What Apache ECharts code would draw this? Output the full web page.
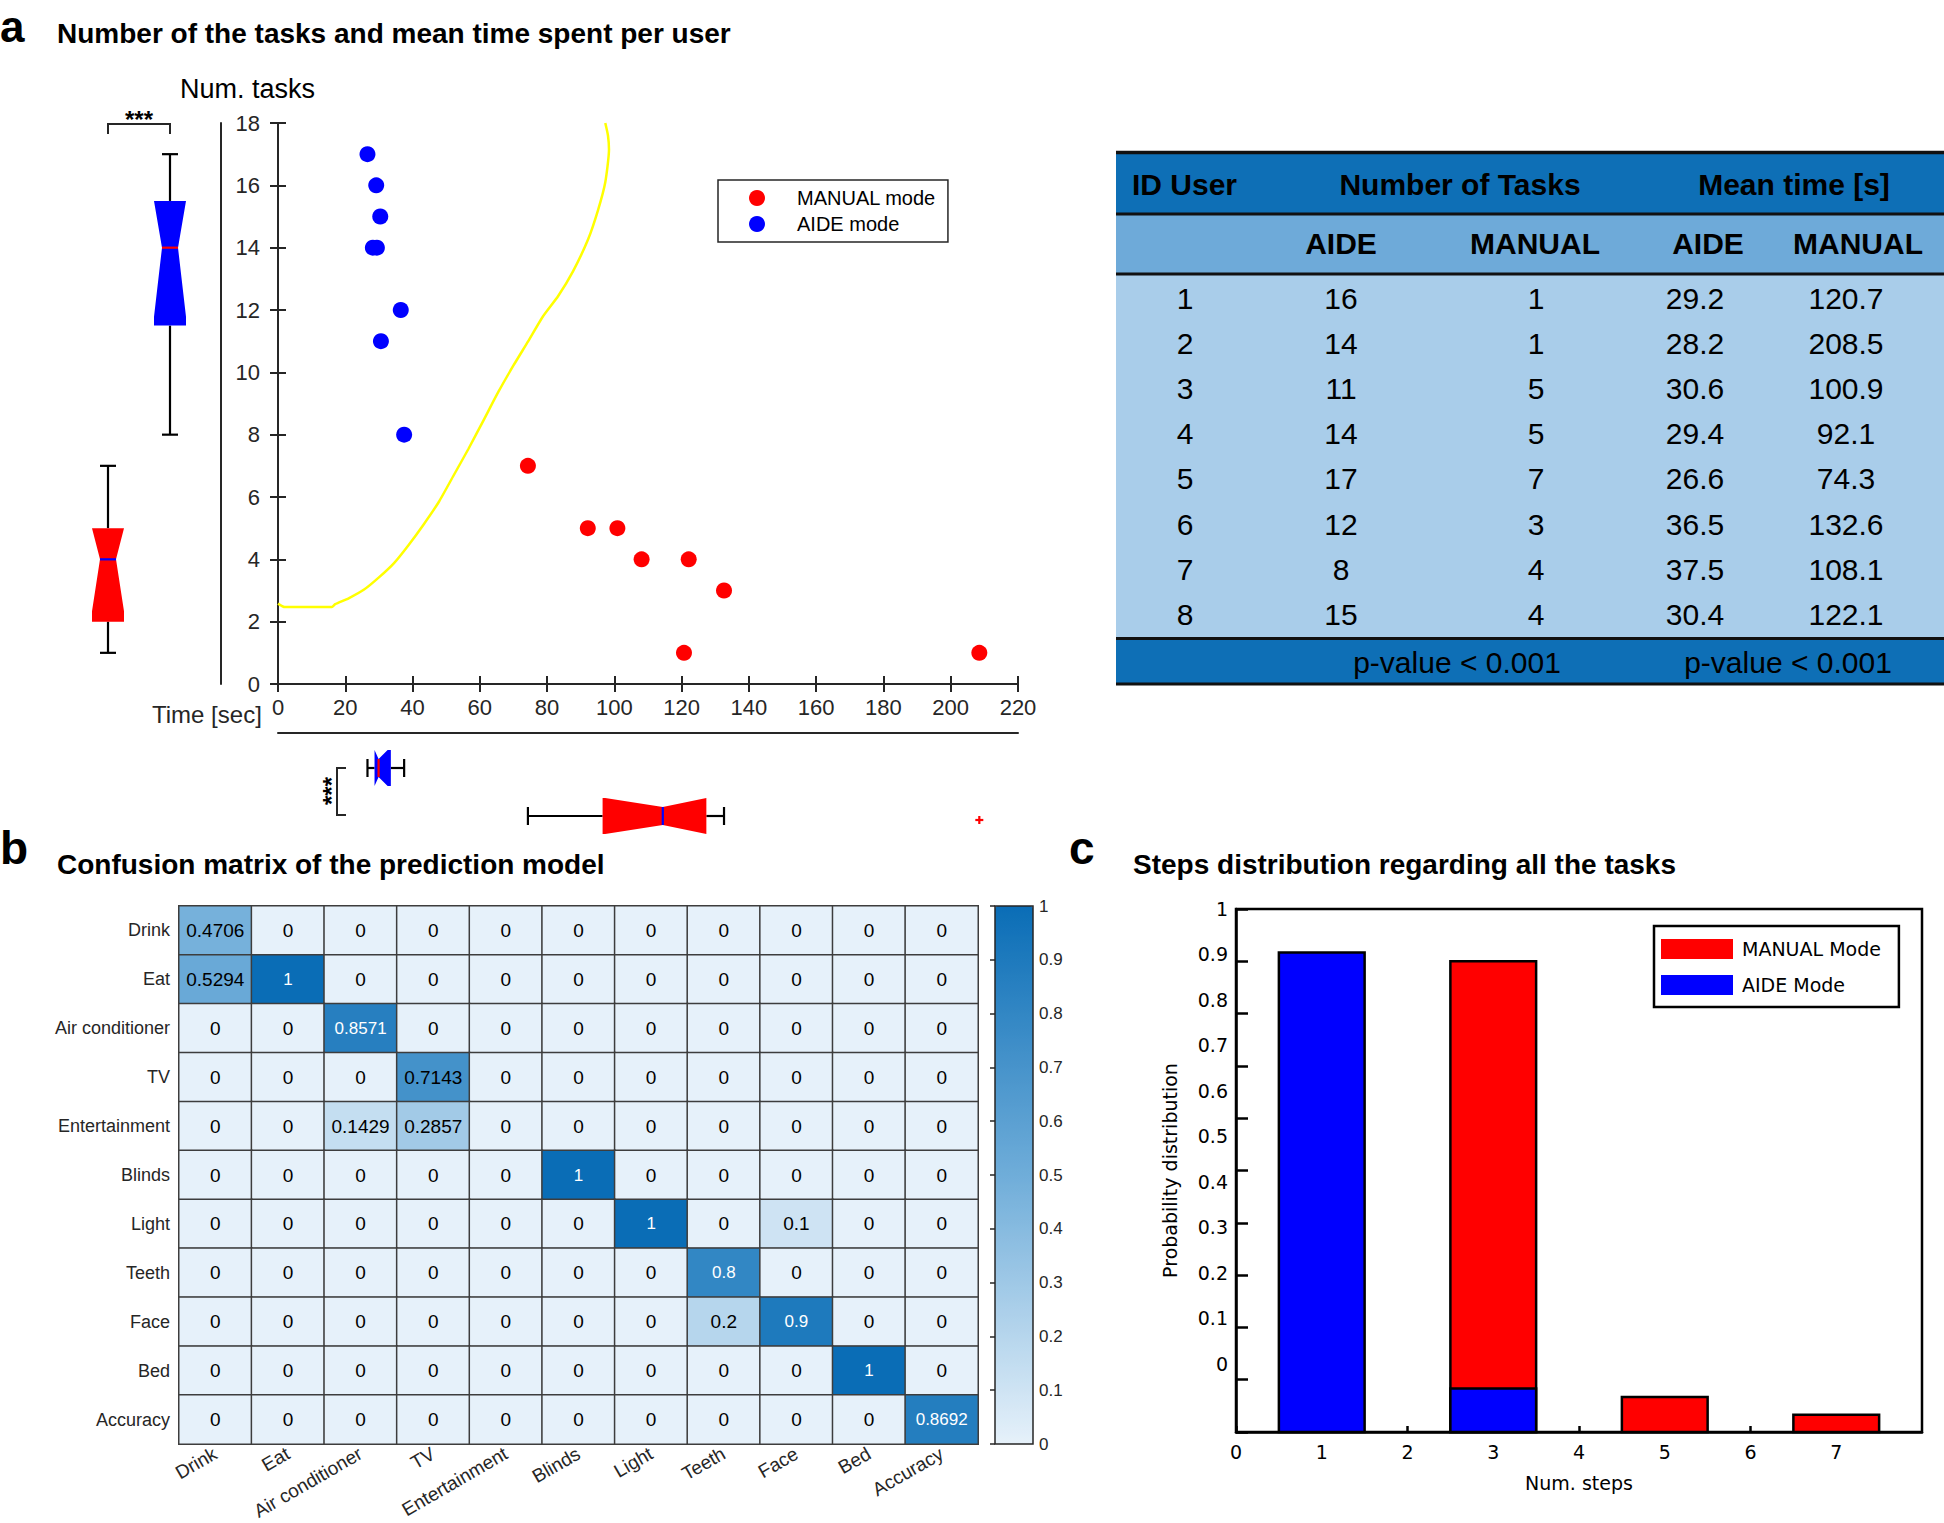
<!DOCTYPE html>
<html><head><meta charset="utf-8">
<script src="https://cdn.jsdelivr.net/npm/echarts@6/dist/echarts.min.js"></script>
<style>html,body{margin:0;padding:0;background:#fff}#c{width:1944px;height:1523px}</style>
</head><body><div id="c"></div>
<script>
// ================= DATA =================
const userIds      = [1, 2, 3, 4, 5, 6, 7, 8];
const aideTasks    = [16, 14, 11, 14, 17, 12, 8, 15];
const manualTasks  = [1, 1, 5, 5, 7, 3, 4, 4];
const aideTime     = [29.2, 28.2, 30.6, 29.4, 26.6, 36.5, 37.5, 30.4];
const manualTime   = [120.7, 208.5, 100.9, 92.1, 74.3, 132.6, 108.1, 122.1];
const pValueTasks  = 'p-value < 0.001';
const pValueTime   = 'p-value < 0.001';
// decision boundary (yellow curve)
const boundaryTime  = [0, 2, 16, 17, 21, 25.6, 30, 34.5, 38.9, 43.3, 47.8, 52.2, 56.6, 61.1, 65.5, 70, 74.4, 78.8, 83.3, 87.7, 92.2, 95.1, 97.3, 98.4, 98.1, 97.3];
const boundaryTasks = [2.58, 2.47, 2.47, 2.56, 2.75, 3.03, 3.42, 3.88, 4.47, 5.12, 5.84, 6.69, 7.54, 8.46, 9.37, 10.22, 11.0, 11.8, 12.45, 13.24, 14.27, 15.19, 16.1, 17.15, 17.6, 18];
// confusion matrix
const classes = ['Drink', 'Eat', 'Air conditioner', 'TV', 'Entertainment', 'Blinds', 'Light', 'Teeth', 'Face', 'Bed', 'Accuracy'];
const confusion = [
  [0.4706, 0, 0, 0, 0, 0, 0, 0, 0, 0, 0],
  [0.5294, 1, 0, 0, 0, 0, 0, 0, 0, 0, 0],
  [0, 0, 0.8571, 0, 0, 0, 0, 0, 0, 0, 0],
  [0, 0, 0, 0.7143, 0, 0, 0, 0, 0, 0, 0],
  [0, 0, 0.1429, 0.2857, 0, 0, 0, 0, 0, 0, 0],
  [0, 0, 0, 0, 0, 1, 0, 0, 0, 0, 0],
  [0, 0, 0, 0, 0, 0, 1, 0, 0.1, 0, 0],
  [0, 0, 0, 0, 0, 0, 0, 0.8, 0, 0, 0],
  [0, 0, 0, 0, 0, 0, 0, 0.2, 0.9, 0, 0],
  [0, 0, 0, 0, 0, 0, 0, 0, 0, 1, 0],
  [0, 0, 0, 0, 0, 0, 0, 0, 0, 0, 0.8692]
];
// steps distribution
const steps          = [1, 2, 3, 4, 5, 6, 7];
const aideStepProb   = [0.917, 0, 0.083, 0, 0, 0, 0];
const manualStepProb = [0, 0, 0.9, 0, 0.067, 0, 0.033];

// ================= HELPERS =================
const RED = '#ff0000', BLUE = '#0000ff', AX = '#262626';
const FA = '"Liberation Sans", Arial, Helvetica, sans-serif';
const FN = '"Liberation Sans Narrow", "Liberation Sans", Arial, sans-serif';
const FD = '"DejaVu Sans", Verdana, sans-serif';

function boxStats(arr) {
  const s = [...arr].sort((a, b) => a - b), n = s.length;
  const q = p => { const pos = n * p + 0.5; if (pos <= 1) return s[0]; if (pos >= n) return s[n - 1];
    const lo = Math.floor(pos), f = pos - lo; return s[lo - 1] + f * (s[lo] - s[lo - 1]); };
  const q1 = q(0.25), med = q(0.5), q3 = q(0.75), iqr = q3 - q1;
  const inl = s.filter(v => v >= q1 - 1.5 * iqr && v <= q3 + 1.5 * iqr);
  const out = s.filter(v => v < q1 - 1.5 * iqr || v > q3 + 1.5 * iqr);
  const d = 1.57 * iqr / Math.sqrt(n);
  return { q1, med, q3, lo: inl[0], hi: inl[inl.length - 1], out, nlo: med - d, nhi: med + d };
}
const boxGroups = ['MANUAL', 'AIDE'];
const taskStats = [boxStats(manualTasks), boxStats(aideTasks)];
const timeStats = [boxStats(manualTime), boxStats(aideTime)];

function renderVBox(params, api) {
  const i = params.dataIndex, st = taskStats[i];
  const cx = api.coord([i, 0])[0], Y = v => api.coord([i, v])[1];
  const w = 32, fill = i === 0 ? RED : BLUE, mc = i === 0 ? BLUE : RED;
  const a = Math.max(st.nlo, st.q1), b = Math.min(st.nhi, st.q3);
  const L = (x1, y1, x2, y2, c) => ({ type: 'line', shape: { x1, y1, x2, y2 }, style: { stroke: c || '#000', lineWidth: 2.2 } });
  return { type: 'group', children: [
    L(cx, Y(st.q3), cx, Y(st.hi)), L(cx, Y(st.q1), cx, Y(st.lo)),
    L(cx - 8, Y(st.hi), cx + 8, Y(st.hi)), L(cx - 8, Y(st.lo), cx + 8, Y(st.lo)),
    { type: 'polygon', shape: { points: [[cx - w / 2, Y(st.q1)], [cx - w / 2, Y(a)], [cx - w / 4, Y(st.med)], [cx - w / 2, Y(b)], [cx - w / 2, Y(st.q3)],
      [cx + w / 2, Y(st.q3)], [cx + w / 2, Y(b)], [cx + w / 4, Y(st.med)], [cx + w / 2, Y(a)], [cx + w / 2, Y(st.q1)]] }, style: { fill } },
    L(cx - w / 4, Y(st.med), cx + w / 4, Y(st.med), mc)
  ]};
}
function renderHBox(params, api) {
  const i = params.dataIndex, st = timeStats[i];
  const cy = api.coord([0, i])[1], X = v => api.coord([v, i])[0];
  const h = 36, fill = i === 0 ? RED : BLUE, mc = i === 0 ? BLUE : RED;
  const a = Math.max(st.nlo, st.q1), b = Math.min(st.nhi, st.q3);
  const L = (x1, y1, x2, y2, c) => ({ type: 'line', shape: { x1, y1, x2, y2 }, style: { stroke: c || '#000', lineWidth: 2.2 } });
  const ch = [
    L(X(st.q3), cy, X(st.hi), cy), L(X(st.q1), cy, X(st.lo), cy),
    L(X(st.hi), cy - 9, X(st.hi), cy + 9), L(X(st.lo), cy - 9, X(st.lo), cy + 9),
    { type: 'polygon', shape: { points: [[X(st.q1), cy - h / 2], [X(a), cy - h / 2], [X(st.med), cy - h / 4], [X(b), cy - h / 2], [X(st.q3), cy - h / 2],
      [X(st.q3), cy + h / 2], [X(b), cy + h / 2], [X(st.med), cy + h / 4], [X(a), cy + h / 2], [X(st.q1), cy + h / 2]] }, style: { fill } },
    L(X(st.med), cy - h / 4, X(st.med), cy + h / 4, mc)
  ];
  st.out.forEach(v => { ch.push(L(X(v) - 4, cy + 4, X(v) + 4, cy + 4, fill)); ch.push(L(X(v), cy, X(v), cy + 8, fill)); });
  return { type: 'group', children: ch };
}
function barSeries(name, probs, color) {
  return { type: 'custom', name, xAxisIndex: 6, yAxisIndex: 6, silent: true, itemStyle: { color },
    data: steps.map((s, k) => [s, probs[k]]).filter(d => d[1] > 0),
    encode: { x: 0, y: 1 },
    renderItem: (params, api) => {
      const x = api.value(0), y = api.value(1);
      const p0 = api.coord([x - 0.5, y]), p1 = api.coord([x + 0.5, 0]);
      return { type: 'rect', shape: { x: p0[0], y: p0[1], width: p1[0] - p0[0], height: p1[1] - p0[1] },
        style: { fill: color, stroke: '#000', lineWidth: 2.5 } };
    } };
}

// heatmap data
const heatData = [];
confusion.forEach((row, r) => row.forEach((v, c) => heatData.push({
  value: [c, r, v], label: { color: v >= 0.75 ? '#ffffff' : '#000000', fontSize: v >= 0.75 ? 17 : 19 } })));

// ================= GRAPHIC (texts, brackets, table) =================
const txt = (text, x, y, size, opt) => Object.assign({ type: 'text', x, y, silent: true,
  style: Object.assign({ text, fontSize: size, fontFamily: FA, fill: '#000', align: 'left', verticalAlign: 'middle' }, (opt || {}).style || {}) },
  opt && opt.rotation !== undefined ? { rotation: opt.rotation } : {});
const BOLD = { style: { fontWeight: 'bold' } };
const graphics = [
  txt('a', 0, 26, 44, BOLD),
  txt('Number of the tasks and mean time spent per user', 57, 33, 28, BOLD),
  txt('Num. tasks', 180, 89, 27),
  txt('Time [sec]', 152, 714, 24, { style: { fill: AX } }),
  { type: 'polyline', silent: true, shape: { points: [[108, 134], [108, 124], [170, 124], [170, 134]] }, style: { stroke: AX, lineWidth: 2, fill: null } },
  txt('***', 139, 119, 24, { style: { align: 'center', fontWeight: 'bold' } }),
  { type: 'polyline', silent: true, shape: { points: [[346, 768], [337, 768], [337, 815], [346, 815]] }, style: { stroke: AX, lineWidth: 2, fill: null } },
  txt('***', 331, 791, 24, { rotation: Math.PI / 2, style: { align: 'center', fontWeight: 'bold' } }),
  txt('b', 0, 848, 46, BOLD),
  txt('Confusion matrix of the prediction model', 57, 864, 28, BOLD),
  txt('c', 1069, 848, 46, BOLD),
  txt('Steps distribution regarding all the tasks', 1133, 864, 28, BOLD)
];
// table
const TL = 1116, TR = 1944;
const rect = (y1, y2, fill) => ({ type: 'rect', silent: true, shape: { x: TL, y: y1, width: TR - TL, height: y2 - y1 }, style: { fill } });
const hl = (y, w) => ({ type: 'line', silent: true, shape: { x1: TL, y1: y, x2: TR, y2: y }, style: { stroke: '#111', lineWidth: w } });
graphics.push(rect(152, 214, '#0e6fb6'), rect(214, 274, '#6eaad9'), rect(274, 638, '#a9cdea'), rect(638, 684, '#0e6fb6'));
graphics.push(hl(152.5, 3.5), hl(214, 3), hl(274, 3), hl(638.5, 3), hl(684, 3));
const B = { style: { fontWeight: 'bold', align: 'center' } }, C = { style: { align: 'center' } };
graphics.push(txt('ID User', 1132, 184, 30, BOLD));
graphics.push(txt('Number of Tasks', 1460, 184, 30, B), txt('Mean time [s]', 1794, 184, 30, B));
graphics.push(txt('AIDE', 1341, 243, 30, B), txt('MANUAL', 1535, 243, 30, B), txt('AIDE', 1708, 243, 30, B), txt('MANUAL', 1858, 243, 30, B));
userIds.forEach((id, i) => {
  const y = 298 + i * 45.2;
  graphics.push(txt(String(id), 1185, y, 30, C), txt(String(aideTasks[i]), 1341, y, 30, C), txt(String(manualTasks[i]), 1536, y, 30, C),
    txt(aideTime[i].toFixed(1), 1695, y, 30, C), txt(manualTime[i].toFixed(1), 1846, y, 30, C));
});
graphics.push(txt(pValueTasks, 1457, 662, 30, C), txt(pValueTime, 1788, 662, 30, C));

// ================= OPTION =================
const axLine = { show: true, lineStyle: { color: AX, width: 2 } };
const noShow = { show: false };
const OB = { outerBoundsMode: 'none', containLabel: false };
const option = {
  animation: false,
  backgroundColor: '#fff',
  textStyle: { fontFamily: FA },
  grid: [
    Object.assign({ left: 278, top: 123, width: 740, height: 561 }, OB),                 // 0 scatter
    Object.assign({ left: 77, top: 123, width: 124, height: 561 }, OB),                  // 1 vertical boxes
    Object.assign({ left: 278, top: 744, width: 740, height: 96 }, OB),                  // 2 horizontal boxes
    Object.assign({ left: 179, top: 906, width: 799, height: 538 }, OB),                 // 3 heatmap
    Object.assign({ left: 995, top: 906, width: 38, height: 538, show: true, borderColor: AX, borderWidth: 1.5, z: 10 }, OB), // 4 colorbar
    Object.assign({ left: 1236, top: 909, width: 686, height: 523, show: true, borderColor: '#000', borderWidth: 2.5 }, OB) // 5 bars
  ],
  xAxis: [
    { gridIndex: 0, type: 'value', min: 0, max: 220, interval: 20, axisLine: axLine, splitLine: noShow,
      axisTick: { inside: true, length: 8, lineStyle: { color: AX, width: 2 } },
      axisLabel: { fontSize: 22, color: AX, margin: 12, fontFamily: FA } },
    { gridIndex: 0, type: 'value', position: 'top', min: 0, max: 220, interval: 20, axisLine: axLine, splitLine: noShow,
      axisTick: { inside: true, length: 8, lineStyle: { color: AX, width: 2 } }, axisLabel: noShow },
    { gridIndex: 1, type: 'category', data: boxGroups, show: false },
    { gridIndex: 2, type: 'value', position: 'top', offset: 11, min: 0, max: 220, interval: 20, axisLine: axLine, splitLine: noShow,
      axisTick: { inside: true, length: 8, lineStyle: { color: AX, width: 2 } }, axisLabel: noShow },
    { gridIndex: 3, type: 'category', data: classes, axisLine: noShow, axisTick: noShow, splitLine: noShow,
      axisLabel: { rotate: 30, fontSize: 19, color: AX, fontFamily: FN, margin: 8, interval: 0 } },
    { gridIndex: 4, type: 'value', show: false, min: 0, max: 1 },
    { gridIndex: 5, type: 'value', position: 'bottom', min: 0, max: 8, interval: 1, splitLine: noShow,
      axisLine: { show: true, lineStyle: { color: '#000', width: 2.5 } },
      axisTick: { inside: true, length: 6, lineStyle: { color: '#000', width: 2.5 } },
      axisLabel: { fontSize: 19, color: '#000', fontFamily: FD, margin: 10, showMaxLabel: false },
      name: 'Num. steps', nameLocation: 'middle', nameGap: 41, nameTextStyle: { fontSize: 19, fontFamily: FD, color: '#000' } }
  ],
  yAxis: [
    { gridIndex: 0, type: 'value', position: 'left', min: 0, max: 18, interval: 2, axisLine: axLine, splitLine: noShow,
      axisTick: { inside: true, length: 8, lineStyle: { color: AX, width: 2 } }, axisLabel: noShow },
    { gridIndex: 0, type: 'value', position: 'right', min: 0, max: 18, interval: 2, axisLine: axLine, splitLine: noShow,
      axisTick: { inside: true, length: 8, lineStyle: { color: AX, width: 2 } }, axisLabel: noShow },
    { gridIndex: 1, type: 'value', position: 'right', offset: 20, min: 0, max: 18, interval: 2, axisLine: axLine, splitLine: noShow,
      axisTick: { inside: true, length: 8, lineStyle: { color: AX, width: 2 } },
      axisLabel: { fontSize: 22, color: AX, margin: 39, align: 'right', fontFamily: FA } },
    { gridIndex: 2, type: 'category', data: boxGroups, show: false },
    { gridIndex: 3, type: 'category', data: classes, inverse: true, axisLine: noShow, axisTick: noShow, splitLine: noShow,
      axisLabel: { fontSize: 18, color: AX, fontFamily: FN, margin: 9, interval: 0 } },
    { gridIndex: 4, type: 'value', position: 'right', min: 0, max: 1, interval: 0.1, axisLine: noShow, splitLine: noShow,
      axisTick: { inside: true, length: 5, lineStyle: { color: AX, width: 1.5 } },
      axisLabel: { fontSize: 17, color: AX, margin: 6, fontFamily: FA } },
    { gridIndex: 5, type: 'value', position: 'left', min: 0, max: 1, interval: 0.1, splitLine: noShow,
      axisLine: { show: true, lineStyle: { color: '#000', width: 2.5 } },
      axisTick: { inside: true, length: 12, lineStyle: { color: '#000', width: 2.5 } }, axisLabel: noShow },
    { gridIndex: 5, type: 'value', position: 'left', offset: 0, min: -0.15, max: 1, interval: 0.05, axisLine: noShow, axisTick: noShow, splitLine: noShow,
      axisLabel: { fontSize: 19, color: '#000', fontFamily: FD, margin: 8,
        formatter: v => { const k = Math.round(v * 100); return (k >= 0 && k % 10 === 0) ? String(k / 100) : ''; } },
      name: 'Probability distribution', nameLocation: 'middle', nameGap: 57, nameTextStyle: { fontSize: 19, fontFamily: FD, color: '#000' } }
  ],
  visualMap: {
    type: 'continuous', min: 0, max: 1, seriesIndex: 5, orient: 'vertical', left: 995, top: 906,
    itemWidth: 38, itemHeight: 538, padding: 0, calculable: false, hoverLink: false,
    inRange: { color: ['#e6f1fa', '#6fadd9', '#0a6db6'] }
  },
  legend: [
    { orient: 'vertical', left: 718, top: 180, padding: [8, 12, 8, 31], itemGap: 6, itemWidth: 16, itemHeight: 16,
      borderColor: AX, borderWidth: 1.5, backgroundColor: '#fff', selectedMode: false,
      textStyle: { fontFamily: FA, fontSize: 20, color: '#000', padding: [0, 0, 0, 27] },
      data: [{ name: 'MANUAL mode', icon: 'circle', itemStyle: { color: RED } }, { name: 'AIDE mode', icon: 'circle', itemStyle: { color: BLUE } }] },
    { orient: 'vertical', left: 1654, top: 926, padding: [13, 18, 12, 7], itemGap: 16, itemWidth: 72, itemHeight: 20,
      borderColor: '#000', borderWidth: 2.5, backgroundColor: '#fff', selectedMode: false,
      textStyle: { fontFamily: FD, fontSize: 19, color: '#000', padding: [0, 0, 0, 4] },
      data: [{ name: 'MANUAL Mode', icon: 'rect', itemStyle: { color: RED } }, { name: 'AIDE Mode', icon: 'rect', itemStyle: { color: BLUE } }] }
  ],
  series: [
    { type: 'scatter', name: 'MANUAL mode', xAxisIndex: 0, yAxisIndex: 0, symbolSize: 16, itemStyle: { color: RED, opacity: 1 }, z: 4,
      data: manualTime.map((t, i) => [t, manualTasks[i]]) },
    { type: 'scatter', name: 'AIDE mode', xAxisIndex: 0, yAxisIndex: 0, symbolSize: 16, itemStyle: { color: BLUE, opacity: 1 }, z: 4,
      data: aideTime.map((t, i) => [t, aideTasks[i]]) },
    { type: 'line', name: 'boundary', xAxisIndex: 0, yAxisIndex: 0, showSymbol: false, silent: true, smooth: 0.2,
      lineStyle: { color: '#ffff00', width: 2.5 }, z: 3, data: boundaryTime.map((t, i) => [t, boundaryTasks[i]]) },
    { type: 'custom', name: 'tasksBox', xAxisIndex: 2, yAxisIndex: 2, silent: true, renderItem: renderVBox,
      encode: { x: 0, y: 1 }, data: taskStats.map((s, i) => [i, s.med]) },
    { type: 'custom', name: 'timeBox', xAxisIndex: 3, yAxisIndex: 3, silent: true, renderItem: renderHBox, clip: false,
      encode: { x: 0, y: 1 }, data: timeStats.map((s, i) => [s.med, i]) },
    { type: 'heatmap', name: 'confusion', xAxisIndex: 4, yAxisIndex: 4, data: heatData, silent: true,
      itemStyle: { borderColor: '#3d3d3d', borderWidth: 1.5 },
      label: { show: true, fontFamily: FA, formatter: p => String(p.value[2]) } },
    barSeries('MANUAL Mode', manualStepProb, RED),
    barSeries('AIDE Mode', aideStepProb, BLUE)
  ],
  graphic: graphics
};
const chart = echarts.init(document.getElementById('c'), null, { renderer: 'svg', width: 1944, height: 1523 });
chart.setOption(option);
</script>
</body></html>
